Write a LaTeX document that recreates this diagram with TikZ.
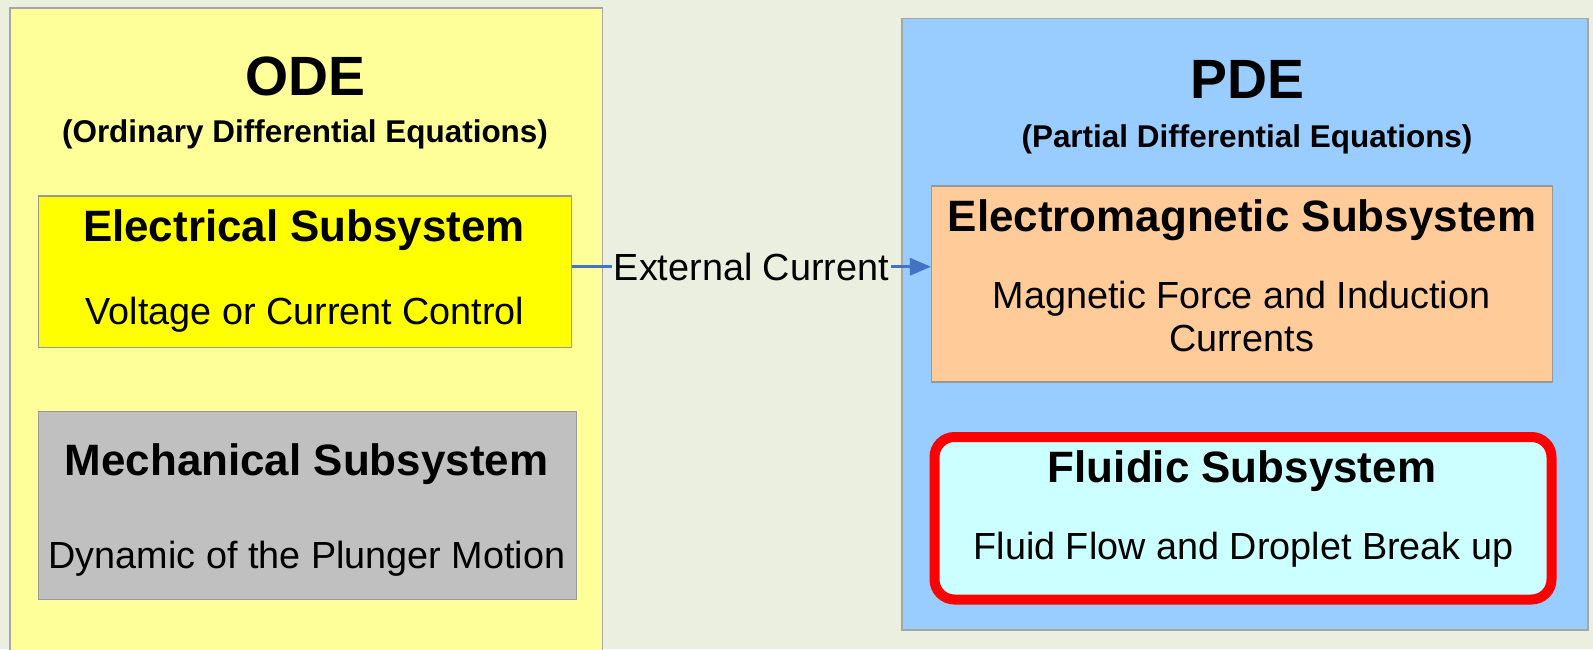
\documentclass[tikz,border=0pt]{standalone}
\usepackage{fontspec}
\setmainfont{Liberation Sans}
\usetikzlibrary{arrows.meta, positioning, calc}
\usepackage{xcolor}
\definecolor{bgc}{RGB}{235,239,224}
\definecolor{odefill}{RGB}{255,255,153}
\definecolor{pdefill}{RGB}{153,204,255}
\definecolor{elecfill}{RGB}{255,255,0}
\definecolor{mechfill}{RGB}{192,192,192}
\definecolor{emagfill}{RGB}{255,204,153}
\definecolor{fluidfill}{RGB}{204,255,255}
\definecolor{arrowblue}{RGB}{68,114,196}

\begin{document}
\begin{tikzpicture}[
  font=\fontsize{21.5}{24.7}\selectfont,
  panel/.style={rectangle, draw=black!35, line width=0.6pt, inner sep=0pt},
  box/.style={rectangle, draw=black!40, line width=0.6pt, inner sep=0pt},
  ttl/.style={font=\fontsize{31.5}{36}\selectfont\bfseries},
  subttl/.style={font=\fontsize{17.9}{22}\selectfont\bfseries},
  head/.style={font=\fontsize{25}{30}\selectfont\bfseries},
  body/.style={align=center},
  e/.style={-{Triangle[length=4.2mm, width=3.4mm]}, draw=arrowblue, line width=1.6pt},
  lbl/.style={fill=bgc, inner sep=1pt}
]
\fill[bgc] (0,0) rectangle (31.86,12.98);
\useasboundingbox (0,0) rectangle (31.86,12.98);

% ================================================= ODE side
\node[panel, fill=odefill, minimum width=11.85cm, minimum height=13.12cm] (ode) at (6.125, 6.26) {};
\node[ttl]    (odeT) at (6.10, 11.46) {ODE};
\node[subttl] (odeS) at (6.10, 10.30) {(Ordinary Differential Equations)};

\node[box, fill=elecfill, minimum width=10.65cm, minimum height=3.03cm] (elec) at (6.10, 7.545) {};
\node[head] (elecT) at (6.08, 8.38) {Electrical Subsystem};
\node[body] (elecB) at (6.10, 6.69) {Voltage or Current Control};

\node[box, fill=mechfill, minimum width=10.75cm, minimum height=3.76cm] (mech) at (6.15, 2.87) {};
\node[head] (mechT) at (6.13, 3.70) {Mechanical Subsystem};
\node[body] (mechB) at (6.14, 1.80) {Dynamic of the Plunger Motion};

% ================================================= PDE side
\node[panel, fill=pdefill, minimum width=13.72cm, minimum height=12.23cm] (pde) at (24.90, 6.495) {};
\node[ttl]    (pdeT) at (24.95, 11.40) {PDE};
\node[subttl] (pdeS) at (24.94, 10.20) {(Partial Differential Equations)};

\node[box, fill=emagfill, minimum width=12.42cm, minimum height=3.92cm] (emag) at (24.84, 7.30) {};
\node[head] (emagT) at (24.84, 8.57) {Electromagnetic Subsystem};
\node[body] (emagB) at (24.83, 6.655) {Magnetic Force and Induction\\Currents};

\node[rectangle, draw=red, line width=0.2cm, rounded corners=0.4cm, fill=fluidfill,
      minimum width=12.34cm, minimum height=3.25cm] (fluid) at (24.86, 2.615) {};
\node[head] (fluidT) at (24.84, 3.56) {Fluidic Subsystem};
\node[body] (fluidB) at (24.87, 1.99) {Fluid Flow and Droplet Break up};

% ================================================= coupling
\draw[e] ([yshift=1mm]elec.east) -- node[lbl] (ext) {External Current}
  ([yshift=1mm]elec.east -| emag.west);

\end{tikzpicture}
\end{document}
